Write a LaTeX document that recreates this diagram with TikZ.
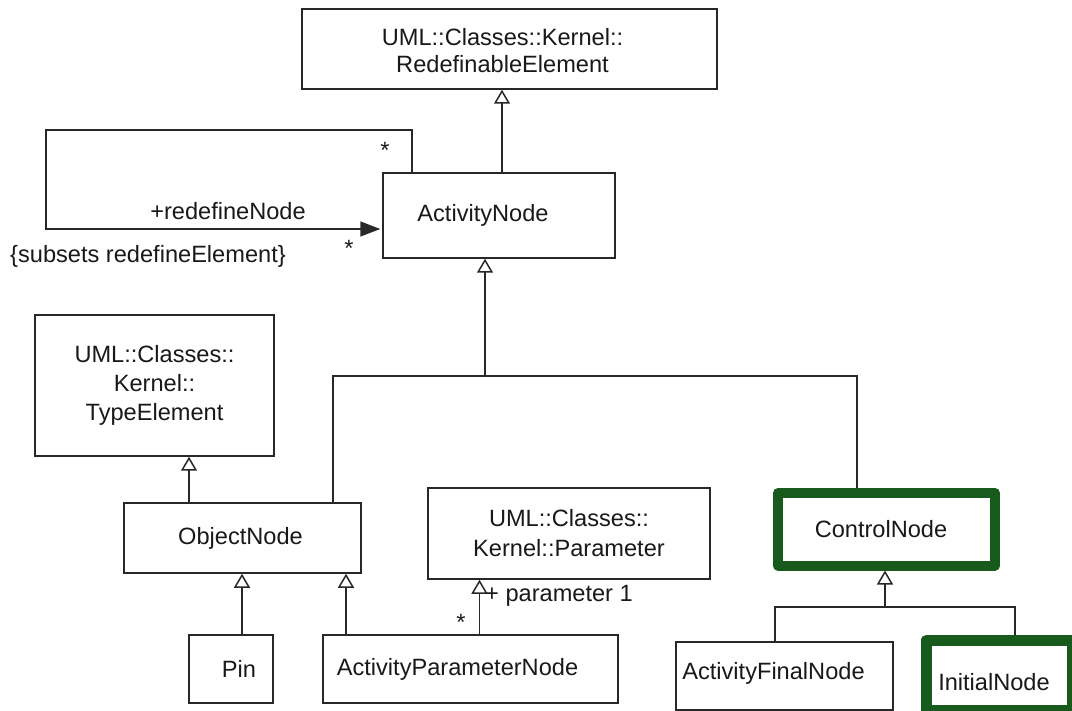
\documentclass[tikz,border=0pt]{standalone}
\usepackage{fontspec}
\setmainfont{Liberation Sans}
\usetikzlibrary{arrows.meta}

\definecolor{ink}{RGB}{40,40,40}
\definecolor{hilite}{RGB}{24,90,28}

\tikzset{
  txt/.style={font=\fontsize{23.6}{29}\selectfont, text=black!90, inner sep=0pt, align=center},
  cls/.style={draw=ink, line width=1.5pt, rectangle, inner sep=0pt, fill=white},
  hot/.style={draw=hilite, line width=10pt, rectangle, inner sep=0pt, fill=white, line join=round},
  wire/.style={draw=ink, line width=1.5pt},
  gen/.style={wire, -{Triangle[open, length=14pt, width=16pt, line width=1.5pt]}},
  assoc/.style={wire, -{Triangle[length=20pt, width=15pt]}, shorten >=2pt},
}

\begin{document}
\begin{tikzpicture}[x=1pt, y=-1pt]
\useasboundingbox (0,0) rectangle (1072,711);
\clip (0,0) rectangle (1072,711);

% classes
\node[cls, minimum width=415pt, minimum height=80pt,
      label={[txt, xshift=-7pt, yshift=-2pt, font=\fontsize{23.6}{27}\selectfont]center:UML::Classes::Kernel::\\RedefinableElement}]
  (redef) at (509.5,49) {};
\node[cls, minimum width=232pt, minimum height=85pt,
      label={[txt, xshift=-16pt]center:ActivityNode}]
  (an) at (499,215.5) {};
\node[cls, minimum width=239pt, minimum height=141pt,
      label={[txt]center:UML::Classes::\\Kernel::\\TypeElement}]
  (te) at (154.5,385.5) {};
\node[cls, minimum width=237pt, minimum height=70pt,
      label={[txt, xshift=-2pt]center:ObjectNode}]
  (on) at (242.5,538) {};
\node[cls, minimum width=282pt, minimum height=91pt,
      label={[txt, font=\fontsize{23.6}{30}\selectfont]center:UML::Classes::\\Kernel::Parameter}]
  (par) at (569,533.5) {};
\node[cls, minimum width=84pt, minimum height=68pt,
      label={[txt, xshift=8pt]center:Pin}]
  (pin) at (231,669) {};
\node[cls, minimum width=295pt, minimum height=68pt,
      label={[txt, xshift=-13pt]center:ActivityParameterNode}]
  (apn) at (470.5,669) {};
\node[hot, minimum width=217pt, minimum height=72.5pt,
      label={[txt, xshift=-5.5pt]center:ControlNode}]
  (cn) at (886.5,529.25) {};
\node[cls, minimum width=217pt, minimum height=68pt,
      label={[txt, xshift=-11pt, yshift=3pt]center:ActivityFinalNode}]
  (afn) at (784.5,676) {};
\node[hot, line width=11pt, minimum width=146pt, minimum height=70.5pt,
      label={[txt, xshift=-5.5pt, yshift=-7pt]center:InitialNode}]
  (inn) at (999.5,675.25) {};

% ActivityNode specialises RedefinableElement
\draw[gen] ([xshift=3pt]an.north) -- ([xshift=3pt]an.north |- redef.south);

% self association redefineNode
\draw[assoc] ([xshift=-87pt]an.north) |- (46,130) |- ([yshift=-13.5pt]an.west);
\node[txt] (m1) at (385,150) {*};
\node[txt] (rn) at (228,211) {+redefineNode};
\node[txt] (m2) at (349,248) {*};
\node[txt] (sub) at (148,256) {\{subsets redefineElement\}};

% ObjectNode and ControlNode specialise ActivityNode
\coordinate (hubA) at (485,376);
\draw[gen] (hubA) -- ([xshift=-14pt]an.south);
\draw[wire] ([xshift=90.5pt]on.north) |- (hubA) -| ([xshift=-29.5pt]cn.north);

% ObjectNode specialises TypeElement
\draw[gen] ([xshift=-53.5pt]on.north) -- ([xshift=-53.5pt]on.north |- te.south);

% Pin and ActivityParameterNode specialise ObjectNode
\draw[gen] ([xshift=11pt]pin.north) -- ([xshift=11pt]pin.north |- on.south);
\draw[gen] ([xshift=-124.5pt]apn.north) -- ([xshift=-124.5pt]apn.north |- on.south);

% ActivityParameterNode refers to its Parameter
\draw[gen] ([xshift=9pt]apn.north) -- ([xshift=9pt]apn.north |- par.south);
\node[txt] (pl) at (559,596) {+ parameter 1};
\node[txt] (m3) at (461,622) {*};

% ActivityFinalNode and InitialNode specialise ControlNode
\coordinate (hubB) at (885,607);
\draw[gen] (hubB) -- ([xshift=-1.5pt]cn.south);
\draw[wire] ([xshift=-9.5pt]afn.north) |- (hubB) -| ([xshift=15.5pt]inn.north);
\end{tikzpicture}
\end{document}
